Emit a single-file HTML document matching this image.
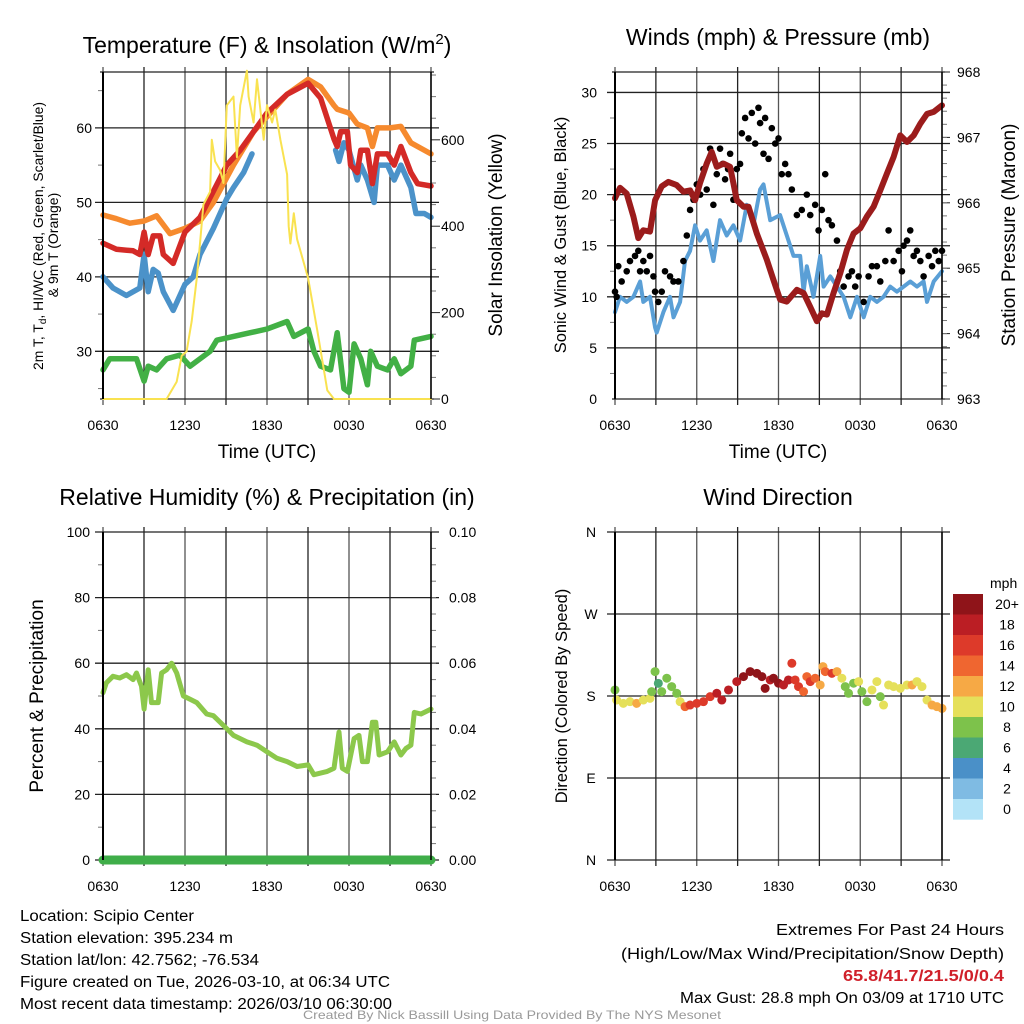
<!DOCTYPE html>
<html><head><meta charset="utf-8"><style>
html,body{margin:0;padding:0;background:#fff}
svg{display:block;font-family:"Liberation Sans",sans-serif}
</style></head><body>
<svg id="fig" width="1024" height="1024" viewBox="0 0 1024 1024" xmlns="http://www.w3.org/2000/svg">
<text x="267" y="53" font-size="23" text-anchor="middle">Temperature (F) &amp; Insolation (W/m<tspan dy="-9" font-size="15">2</tspan><tspan dy="9">)</tspan></text>
<text x="778" y="45" font-size="23" text-anchor="middle">Winds (mph) &amp; Pressure (mb)</text>
<text x="267" y="505" font-size="23" text-anchor="middle">Relative Humidity (%) &amp; Precipitation (in)</text>
<text x="778" y="505" font-size="23" text-anchor="middle">Wind Direction</text>
<text x="267" y="458" font-size="19" text-anchor="middle">Time (UTC)</text>
<text x="778" y="458" font-size="19" text-anchor="middle">Time (UTC)</text>
<text transform="translate(43,236) rotate(-90)" font-size="14" text-anchor="middle" textLength="268" lengthAdjust="spacingAndGlyphs">2m T, T<tspan dy="3" font-size="10">d</tspan><tspan dy="-3">, HI/WC (Red, Green, Scarlet/Blue)</tspan></text>
<text transform="translate(58,245) rotate(-90)" font-size="14" text-anchor="middle">&amp; 9m T (Orange)</text>
<text transform="translate(502,235) rotate(-90)" font-size="19" text-anchor="middle">Solar Insolation (Yellow)</text>
<text transform="translate(566,235) rotate(-90)" font-size="16.5" text-anchor="middle">Sonic Wind &amp; Gust (Blue, Black)</text>
<text transform="translate(1015,235) rotate(-90)" font-size="19" text-anchor="middle">Station Pressure (Maroon)</text>
<text transform="translate(43,696) rotate(-90)" font-size="19" text-anchor="middle">Percent &amp; Precipitation</text>
<text transform="translate(567,696) rotate(-90)" font-size="16.5" text-anchor="middle">Direction (Colored By Speed)</text>
<g font-size="15.5">
<text x="20" y="921" textLength="174" lengthAdjust="spacingAndGlyphs">Location: Scipio Center</text>
<text x="20" y="943" textLength="213" lengthAdjust="spacingAndGlyphs">Station elevation: 395.234 m</text>
<text x="20" y="965" textLength="239" lengthAdjust="spacingAndGlyphs">Station lat/lon: 42.7562; -76.534</text>
<text x="20" y="987" textLength="370" lengthAdjust="spacingAndGlyphs">Figure created on Tue, 2026-03-10, at 06:34 UTC</text>
<text x="20" y="1009" textLength="372" lengthAdjust="spacingAndGlyphs">Most recent data timestamp: 2026/03/10 06:30:00</text>
<text x="776" y="935" textLength="228" lengthAdjust="spacingAndGlyphs">Extremes For Past 24 Hours</text>
<text x="621" y="959" textLength="383" lengthAdjust="spacingAndGlyphs">(High/Low/Max Wind/Precipitation/Snow Depth)</text>
<text x="843" y="981" fill="#d0202a" font-weight="bold" textLength="161" lengthAdjust="spacingAndGlyphs">65.8/41.7/21.5/0/0.4</text>
<text x="680" y="1003" textLength="324" lengthAdjust="spacingAndGlyphs">Max Gust: 28.8 mph On 03/09 at 1710 UTC</text>
</g>
<text x="303" y="1019" font-size="12" fill="#999" textLength="418" lengthAdjust="spacingAndGlyphs">Created By Nick Bassill Using Data Provided By The NYS Mesonet</text>
</svg>
<script>
// ---- data ----
const xTickLabels = ["0630","1230","1830","0030","0630"];
const orangeT = [0,0.98,1.96,3.01,3.92,4.9,6,7.1,8.08,9.55,11.02,12,13.47,15.01,15.92,16.9,17.14,18,18.61,19.35,19.71,20.08,21.01,21.8,22.53,24];
const orangeV = [48.3,47.8,47.2,47.5,48.2,45.8,46.5,47.5,50,55,59.5,61.5,64.5,66.5,65.5,63,62.5,62,60.5,60,57.5,60,60,60.2,58,56.5];
const redT = [0,0.98,2.2,2.69,3.01,3.31,3.67,4.16,4.41,5.14,6,7.1,8.08,9.06,10.04,11.02,12,13.47,15.01,15.92,16.9,17.14,17.39,17.88,18.12,18.61,18.86,19.35,19.71,20.08,20.82,21.31,21.8,22.53,23.02,24];
const redV = [44.5,43.7,43.5,43,46,43,45.5,45.5,43,41.8,46,48,51.5,55,57,59.5,62,64.5,66,64,58.5,57.5,59.5,59.5,55,54,57,57,52.5,56.5,56.5,55,57.5,54,52.5,52.2];
const blueT = [0,0.73,1.71,2.69,3.01,3.31,3.67,4.04,4.41,5.14,6,6.61,7.1,8.08,9.06,9.55,10.29,10.9,null,17.02,17.27,17.63,18,18.61,18.86,19.35,19.84,20.08,20.82,21.31,21.8,22.53,22.9,23.51,24];
const blueV = [40,38.5,37.5,38.5,43,38,41,40.5,38,35.5,39,40,43,46.5,50.5,52,54,56.5,null,57,55.5,58,57,53,55,53,50,55,55,53,55,52,48.5,48.5,48];
const greenT = [0,0.49,1.22,2.45,3.01,3.31,3.92,4.65,5.63,6.37,7.1,7.84,8.33,9.55,10.78,12,13.47,13.96,15.01,15.43,15.92,16.65,17.14,17.63,18,18.37,18.86,19.35,19.59,20.08,20.82,21.31,21.8,22.53,22.78,24];
const greenV = [27.5,29,29,29,26,28,27.5,29,29.5,28,29,30,31.5,32,32.5,33,34,32,33,30,28,27.5,32.5,25,24.5,31,29,25.5,30,28,27.5,29,27,28,31.5,32];
const solarT = [0,4.65,5.39,5.76,6.12,6.49,6.86,7.1,7.35,7.84,7.96,8.2,8.57,8.82,9.06,9.55,9.8,10.04,10.53,10.65,11.02,11.27,11.76,12,12.37,12.61,12.98,13.47,13.59,13.71,13.96,14.2,15.01,15.67,16.41,16.9,24];
const solarV = [0,0,40,100,110,180,280,360,450,480,600,550,530,500,680,700,560,680,760,700,640,740,600,680,640,670,600,520,400,360,430,370,280,160,20,0,0];
const windT = [0,0.37,0.86,1.35,1.84,2.08,2.57,2.94,3.06,3.55,4.04,4.29,4.78,5.14,5.51,5.88,6.24,6.73,7.22,7.71,8.2,8.69,9.18,9.67,10.16,10.65,10.9,11.39,12.12,12.61,13.1,13.59,13.84,14.08,14.57,15.06,15.31,15.8,16.29,16.78,17.27,17.76,18.25,18.73,19.22,19.71,20.2,20.69,21.18,21.67,22.16,22.65,22.9,23.39,24];
const windV = [8.5,10,9.5,10,11.5,9.5,10,7,6.5,8.5,10,8,9.5,13.5,14.5,17,15.5,16.5,13.5,17.5,16,17,15.5,19,17,20.5,21,17.5,18,16,14,14,10.5,13,10,14,11,12,11,10,8,10,8,10,9.5,10,11,10.5,11,11.5,11,11.5,9.5,11.5,12.5];
const gustT = [0,0.12,0.24,0.49,0.86,1.1,1.47,1.71,1.84,2.08,2.33,2.57,2.82,2.94,3.18,3.43,3.67,4.04,4.29,4.65,5.02,5.27,5.51,5.76,6,6.25,6.49,6.73,6.98,7.22,7.47,7.71,7.9,8.08,8.3,8.45,8.69,8.94,9.18,9.31,9.55,9.8,10.04,10.29,10.53,10.65,10.9,11.02,11.27,11.51,11.76,12,12.24,12.49,12.73,12.98,13.35,13.71,14.08,14.33,14.69,14.94,15.18,15.43,15.67,15.92,16.29,16.53,16.78,17.14,17.39,17.63,17.88,18.25,18.61,18.86,19.22,19.47,19.84,20.08,20.45,20.82,21.06,21.18,21.43,21.67,21.92,22.16,22.41,22.65,23.02,23.27,23.51,23.76,24];
const gustV = [10.5,10,13,11.5,12.5,13.5,14,14.5,12.5,13.5,12.5,14,12,10.5,9.5,10.5,12.5,12,11.5,11.5,13.5,16,18.5,19.5,21,20,22.5,20.5,24.5,19,22,24.5,23,21.5,22.5,24,19.5,22.5,23,26,27.5,25.5,28,25,28.5,27,24,27.5,23.5,26.5,25,25.5,22,23,22,20.5,18,18.5,20,18,19,16.5,18.5,22,17.5,17,15.5,12.5,11,12,12.5,11,12,9.5,12,13,13,11.5,13.5,16.5,13.5,14.5,12.5,15,15.5,16.5,14,14.5,13.5,12,14,13,14.5,13.5,14.5];
const presT = [0,0.37,0.86,1.35,1.71,2.08,2.57,2.94,3.43,3.92,4.53,5.02,5.51,5.88,6.24,6.73,7.1,7.47,7.96,8.45,8.94,9.43,9.8,10.41,11.14,11.63,12.12,12.61,13.35,13.84,14.33,14.82,15.18,15.55,16.04,16.53,17.02,17.51,18,18.49,18.98,19.47,19.96,20.45,20.94,21.43,21.92,22.41,22.9,23.39,24];
const presV = [966.07,966.23,966.14,965.79,965.46,965.58,965.56,966.04,966.25,966.32,966.27,966.17,966.19,966.04,966.3,966.6,966.78,966.55,966.6,966.55,966.04,965.94,965.94,965.53,965.13,964.82,964.52,964.49,964.67,964.62,964.41,964.19,964.31,964.29,964.62,964.92,965.28,965.53,965.61,965.79,965.94,966.19,966.45,966.7,967.03,966.93,967.03,967.21,967.36,967.39,967.49];
const rhT = [0,0.24,0.73,1.22,1.71,2.2,2.45,2.82,3.01,3.31,3.55,4.04,4.29,4.65,5.02,5.39,5.88,6.37,6.86,7.59,8.08,8.82,9.55,10.53,11.27,12,12.73,13.47,14.2,15.01,15.43,16.41,16.9,17.27,17.51,17.88,18.37,18.73,18.98,19.35,19.71,19.96,20.2,20.82,21.31,21.8,22.16,22.53,22.78,23.27,24];
const rhV = [51,54,56,55.5,56.5,55,57,53,46,58,48,48,57,58,60,57,50,49,48,44.5,44,41,38,36,35,33,31,30,28.5,29,26,27,28,39,28,27,37,38,30,30,42,42,32,33,36,32,34,35,45,44.5,46];
const precipT = [0,24];
const precipV = [0,0];
const dirT = [0,0.12,0.61,1.1,1.59,2.08,2.57,2.69,2.94,3.18,3.43,3.8,4.16,4.53,4.78,5.14,5.51,6,6.49,6.98,7.47,7.84,8.33,8.94,9.43,9.92,10.41,10.78,11.02,11.39,11.63,12,12.37,12.73,12.98,13.22,13.47,13.84,14.08,14.33,14.69,15.06,15.26,15.43,15.92,16.29,16.65,16.9,17.14,17.51,17.88,18.12,18.49,18.86,19.22,19.47,19.71,20.08,20.45,20.94,21.43,21.8,22.16,22.53,22.9,23.27,23.63,24];
const dirV = [186.6,175.6,171.9,173.8,171.9,175.6,177.4,184.8,206.8,193.9,184.8,199.5,190.3,183,173.8,168.3,170.1,171.9,173.8,179.3,183,175.6,186.6,195.8,201.3,206.8,204.9,201.3,188.4,197.6,199.5,194,192.1,197.6,215.9,197.6,190.3,184.8,201.3,195.8,199.5,192.1,212.3,206.8,204.9,206.8,199.5,190.3,183,194,195.8,184.8,173.8,186.6,195.8,179.3,170.1,192.1,190.3,188.4,192.1,192.1,195.8,190.3,175.6,170.1,168.3,166.4];
const dirSpeed = [8,10,10,10,12,10,10,8,8,6,8,8,8,8,10,14,16,16,16,16,18,18,18,18,20,20,20,20,20,18,20,20,18,18,16,16,16,14,14,16,14,12,12,14,16,12,10,8,8,8,10,8,8,10,10,8,10,10,10,10,10,12,10,10,10,12,12,12];
const cbLabels = ["20+","18","16","14","12","10","8","6","4","2","0"];
const cbColors = ["#8f1419","#bb1e24","#dd3a2a","#ef6630","#f6a945","#e5e05a","#7dc24b","#4ba874","#4a90c8","#7fbbe3","#b3e3f7"];

// ---- drawing ----
const NS="http://www.w3.org/2000/svg";
const svg=document.getElementById('fig');
function mk(tag,attrs,parent){const e=document.createElementNS(NS,tag);for(const k in attrs)e.setAttribute(k,attrs[k]);(parent||svg).appendChild(e);return e;}
function lin(d0,d1,r0,r1){return v=>r0+(v-d0)*(r1-r0)/(d1-d0);}

function panel(name){
  const g=mk('g',{});
  
  
  return g;
}
function vgrid(g,L,R,T,B){
  const xs=lin(0,24,L,R);
  for(let i=0;i<=8;i++){const x=xs(i*3);
    const ln=mk('line',{x1:x,x2:x,y1:T-5,y2:B+6,stroke:i%2?'#222':'#555','stroke-width':1.3},g);
    
    }
  xTickLabels.forEach((s,i)=>{const t=mk('text',{x:xs(i*6),y:B+31,'font-size':14,'text-anchor':'middle'},g);t.textContent=s;
    
    });
}
function hline(g,L,R,y,ext){const ln=mk('line',{x1:L-(ext||8),x2:R+(ext||8),y1:y,y2:y,stroke:'#222','stroke-width':1.3},g);
  
  }
function label(g,x,y,s,anchor,name){const t=mk('text',{x:x,y:y+5,'font-size':14,'text-anchor':anchor},g);t.textContent=s;
  
  }
function minor(g,x,y,dir){mk('line',{x1:x,x2:x+dir*5,y1:y,y2:y,stroke:'#777','stroke-width':1},g);}
function pathFrom(ts,vs,xs,ys){let d='',pen=false;for(let i=0;i<ts.length;i++){if(ts[i]===null){pen=false;continue;}d+=(pen?'L':'M')+xs(ts[i]).toFixed(1)+' '+ys(vs[i]).toFixed(1);pen=true;}return d;}
function series(g,name,ts,vs,xs,ys,color,w){const p=mk('path',{d:pathFrom(ts,vs,xs,ys),fill:'none',stroke:color,'stroke-width':w,'stroke-linejoin':'round','stroke-linecap':'round'},g);
  
  return p;}
function frame(g,L,R,T,B){mk('line',{x1:L,x2:L,y1:T,y2:B,stroke:'#000','stroke-width':2},g);mk('line',{x1:R,x2:R,y1:T,y2:B,stroke:'#000','stroke-width':1.5},g);}

// Panel 1: temperature
{const L=103,R=431,T=72,B=399;const g=panel('temperature-panel');
 const xs=lin(0,24,L,R), ys=lin(23.6,67.5,B,T), ys2=lin(0,757,B,T);
 vgrid(g,L,R,T,B);
 [30,40,50,60].forEach(v=>{hline(g,L,R,ys(v));label(g,L-11,ys(v),String(v),'end','temp-y-tick');});
 for(let v=25;v<=65;v+=5)if(v%10)minor(g,L,ys(v),-1);
 [0,200,400,600].forEach(v=>{mk('line',{x1:R,x2:R+9,y1:ys2(v),y2:ys2(v),stroke:'#222'},g);label(g,R+10,ys2(v),String(v),'start','solar-y-tick');});
 for(let v=50;v<=750;v+=50)if(v%200)minor(g,R,ys2(v),1);
 hline(g,L,R,T,3);hline(g,L,R,B,3);
 series(g,'dewpoint-line',greenT,greenV,xs,ys,'#42b045',5.5);
 series(g,'wind-chill-line',blueT,blueV,xs,ys,'#4b92c9',5.5);
 series(g,'temp-9m-line',orangeT,orangeV,xs,ys,'#f68a2e',5.5);
 series(g,'temp-2m-line',redT,redV,xs,ys,'#d42a27',5.5);
 series(g,'solar-line',solarT,solarV,xs,ys2,'#f9e250',2);
 frame(g,L,R,T,B);}

// Panel 2: wind & pressure
{const L=615,R=942,T=72,B=399;const g=panel('wind-panel');
 const xs=lin(0,24,L,R), ys=lin(0,32,B,T), ys2=lin(963,968,B,T);
 vgrid(g,L,R,T,B);
 [0,5,10,15,20,25,30].forEach(v=>{if(v>0)hline(g,L,R,ys(v));label(g,L-18,ys(v),String(v),'end','wind-y-tick');});
 for(let v=2.5;v<32;v+=5)minor(g,L,ys(v),-1);
 [963,964,965,966,967,968].forEach(v=>{mk('line',{x1:R,x2:R+8,y1:ys2(v),y2:ys2(v),stroke:'#222'},g);label(g,R+15,ys2(v),String(v),'start','pressure-y-tick');});
 for(let v=963.2;v<968;v+=0.2)minor(g,R,ys2(v),1);
 hline(g,L,R,T,3);hline(g,L,R,B,3);
 series(g,'sonic-wind-line',windT,windV,xs,ys,'#5a9fd6',4);
 gustT.forEach((t,i)=>{const c=mk('circle',{cx:xs(t),cy:ys(gustV[i]),r:3.3,fill:'#000'},g);
   
   });
 series(g,'pressure-line',presT,presV,xs,ys2,'#9b1c1c',6);
 frame(g,L,R,T,B);}

// Panel 3: RH
{const L=103,R=431,T=532,B=860;const g=panel('rh-panel');
 const xs=lin(0,24,L,R), ys=lin(0,100,B,T), ys2=lin(0,0.1,B,T);
 vgrid(g,L,R,T,B);
 [0,20,40,60,80,100].forEach(v=>{hline(g,L,R,ys(v));label(g,L-13,ys(v),String(v),'end','rh-y-tick');});
 for(let v=10;v<100;v+=20)minor(g,L,ys(v),-1);
 [0,0.02,0.04,0.06,0.08,0.1].forEach(v=>{label(g,R+18,ys2(v),v.toFixed(2),'start','precip-y-tick');});
 for(let v=0.005;v<0.1;v+=0.005)minor(g,R,ys2(v),1);
 series(g,'rh-line',rhT,rhV,xs,ys,'#8cc84b',5);
 series(g,'precip-line',precipT,precipV,xs,ys2,'#3fae49',9);
 frame(g,L,R,T,B);}

// Panel 4: wind direction
{const L=615,R=942,T=532,B=860;const g=panel('direction-panel');
 const xs=lin(0,24,L,R), ys=lin(0,360,B,T);
 vgrid(g,L,R,T,B);
 const dl=['N','E','S','W','N'];
 [0,90,180,270,360].forEach((v,i)=>{hline(g,L,R,ys(v));label(g,L-24,ys(v),dl[i],'middle','direction-tick');});
 dirT.forEach((t,i)=>{const s=dirSpeed[i];const bin=Math.min(10,Math.floor(s/2));const c=mk('circle',{cx:xs(t),cy:ys(dirV[i]),r:4.5,fill:cbColors[10-bin]},g);
   
   });
 frame(g,L,R,T,B);
 const cb=mk('g',{});
 
 
 const t0=mk('text',{x:990,y:588,'font-size':14},cb);t0.textContent='mph';
 
 
 cbColors.forEach((c,i)=>{const r=mk('rect',{x:953,y:594+i*20.5,width:30,height:20.7,fill:c},cb);
   
   
   const t=mk('text',{x:1007,y:609+i*20.5,'font-size':14,'text-anchor':'middle'},cb);t.textContent=cbLabels[i];
   
   });}
</script>
</body></html>
